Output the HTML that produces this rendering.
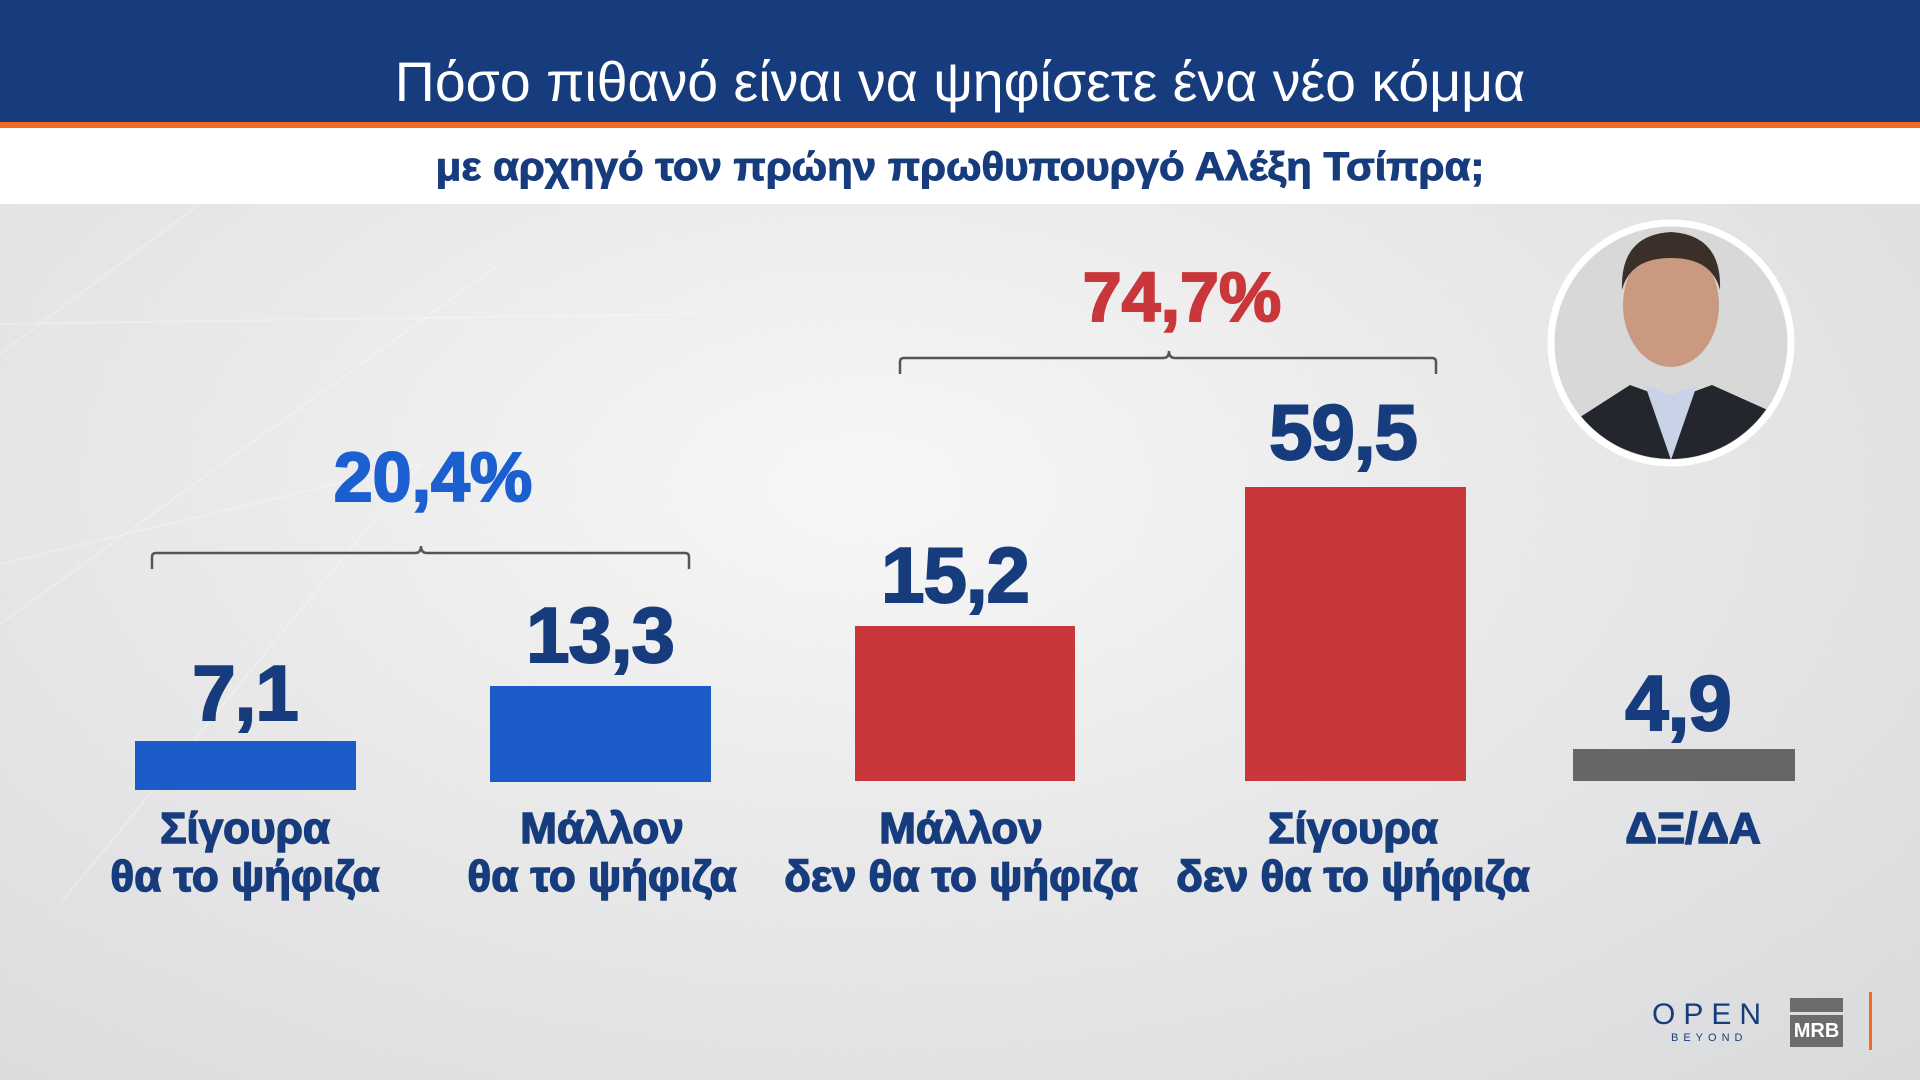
<!DOCTYPE html>
<html><head><meta charset="utf-8"><style>
*{margin:0;padding:0;box-sizing:border-box}
body{width:1920px;height:1080px;overflow:hidden;position:relative;font-family:"Liberation Sans","DejaVu Sans",sans-serif;
background:radial-gradient(ellipse at 45% 45%,#f7f7f7 0%,#e9e9ea 45%,#d9dadc 100%);}
.hdr{position:absolute;left:0;top:0;width:1920px;height:122px;background:#173c7d}
.or{position:absolute;left:0;top:122px;width:1920px;height:6px;background:#f26a22}
.wb{position:absolute;left:0;top:128px;width:1920px;height:76px;background:#fff}
.t{position:absolute;left:0;width:1920px;text-align:center;white-space:nowrap}
.title{top:52px;color:#fff;font-size:56px;line-height:60px;transform:scaleX(0.99)}
.sub{top:145px;color:#173c7d;font-size:40px;font-weight:bold;line-height:44px;transform:scaleX(1.05);-webkit-text-stroke:1px #173c7d}
.bar{position:absolute}
.v{position:absolute;width:400px;text-align:center;color:#173c7d;font-weight:bold;font-size:78px;line-height:80px;-webkit-text-stroke:2px #173c7d;letter-spacing:-1px}
.l{position:absolute;width:440px;text-align:center;color:#173c7d;font-weight:bold;font-size:44px;line-height:48px;-webkit-text-stroke:1.5px #173c7d;white-space:nowrap}
</style></head><body>
<svg style="position:absolute;left:0;top:204px" width="700" height="700"><g stroke="#fff" stroke-opacity="0.25" stroke-width="2" fill="none"><path d="M0 150 L200 0"/><path d="M0 420 L500 60"/><path d="M0 120 L700 110"/><path d="M0 360 L420 260"/><path d="M60 700 L420 260"/></g></svg>
<div class="hdr"></div><div class="or"></div><div class="wb"></div>
<div class="t title">Πόσο πιθανό είναι να ψηφίσετε ένα νέο κόμμα</div>
<div class="t sub">με αρχηγό τον πρώην πρωθυπουργό Αλέξη Τσίπρα;</div>

<svg style="position:absolute;left:0;top:0" width="1920" height="1080">
<path d="M152 569 V557 Q152 553 156 553 H415 Q421 553 421 546 Q421 553 427 553 H685 Q689 553 689 557 V569" fill="none" stroke="#555" stroke-width="2.5"/>
<path d="M900 374 V362 Q900 358 904 358 H1163 Q1169 358 1169 351 Q1169 358 1175 358 H1432 Q1436 358 1436 362 V374" fill="none" stroke="#555" stroke-width="2.5"/>
<circle cx="1671" cy="343" r="120" fill="#d8d8d8" stroke="#fff" stroke-width="7"/>
<clipPath id="c"><circle cx="1671" cy="343" r="116"/></clipPath>
<g clip-path="url(#c)">
<path d="M1560 430 L1630 385 L1671 400 L1712 385 L1790 420 L1790 470 L1560 470Z" fill="#23262d"/>
<path d="M1645 385 L1671 460 L1697 385 L1671 395Z" fill="#c9d2e6"/>
<ellipse cx="1671" cy="305" rx="48" ry="62" fill="#c99a80"/>
<path d="M1622 290 Q1620 235 1671 232 Q1722 235 1720 290 Q1712 258 1671 258 Q1630 258 1622 290Z" fill="#3b3029"/>
</g>
</svg>

<div class="t" style="top:442px;left:-527px;color:#1b5fd0;font-weight:bold;font-size:70px;line-height:70px;-webkit-text-stroke:2px #1b5fd0">20,4%</div>
<div class="t" style="top:262px;left:222px;color:#c9373a;font-weight:bold;font-size:70px;line-height:70px;-webkit-text-stroke:2px #c9373a">74,7%</div>

<div class="bar" style="left:135px;top:741px;width:221px;height:49px;background:#1b5cc8"></div>
<div class="bar" style="left:490px;top:686px;width:221px;height:96px;background:#1b5cc8"></div>
<div class="bar" style="left:855px;top:626px;width:220px;height:155px;background:#c8383b"></div>
<div class="bar" style="left:1245px;top:487px;width:221px;height:294px;background:#c8383b"></div>
<div class="bar" style="left:1573px;top:749px;width:222px;height:32px;background:#666"></div>

<div class="v" style="left:45px;top:653px">7,1</div>
<div class="v" style="left:400px;top:595px">13,3</div>
<div class="v" style="left:755px;top:535px">15,2</div>
<div class="v" style="left:1143px;top:392px">59,5</div>
<div class="v" style="left:1478px;top:663px">4,9</div>

<div class="l" style="left:25px;top:805px">Σίγουρα<br>θα το ψήφιζα</div>
<div class="l" style="left:382px;top:805px">Μάλλον<br>θα το ψήφιζα</div>
<div class="l" style="left:741px;top:805px">Μάλλον<br>δεν θα το ψήφιζα</div>
<div class="l" style="left:1133px;top:805px">Σίγουρα<br>δεν θα το ψήφιζα</div>
<div class="l" style="left:1473px;top:805px">ΔΞ/ΔΑ</div>

<div style="position:absolute;left:1652px;top:1000px;color:#173c7d;font-size:30px;letter-spacing:8px;line-height:30px">OPEN</div>
<div style="position:absolute;left:1671px;top:1032px;color:#173c7d;font-size:11px;letter-spacing:5px">BEYOND</div>
<div style="position:absolute;left:1790px;top:998px;width:53px;height:14px;background:#6c6c6c"></div>
<div style="position:absolute;left:1790px;top:1015px;width:53px;height:32px;background:#6c6c6c;color:#fff;font-weight:bold;font-size:20px;line-height:32px;text-align:center">MRB</div>
<div style="position:absolute;left:1869px;top:992px;width:3px;height:58px;background:#f26a22"></div>
</body></html>
